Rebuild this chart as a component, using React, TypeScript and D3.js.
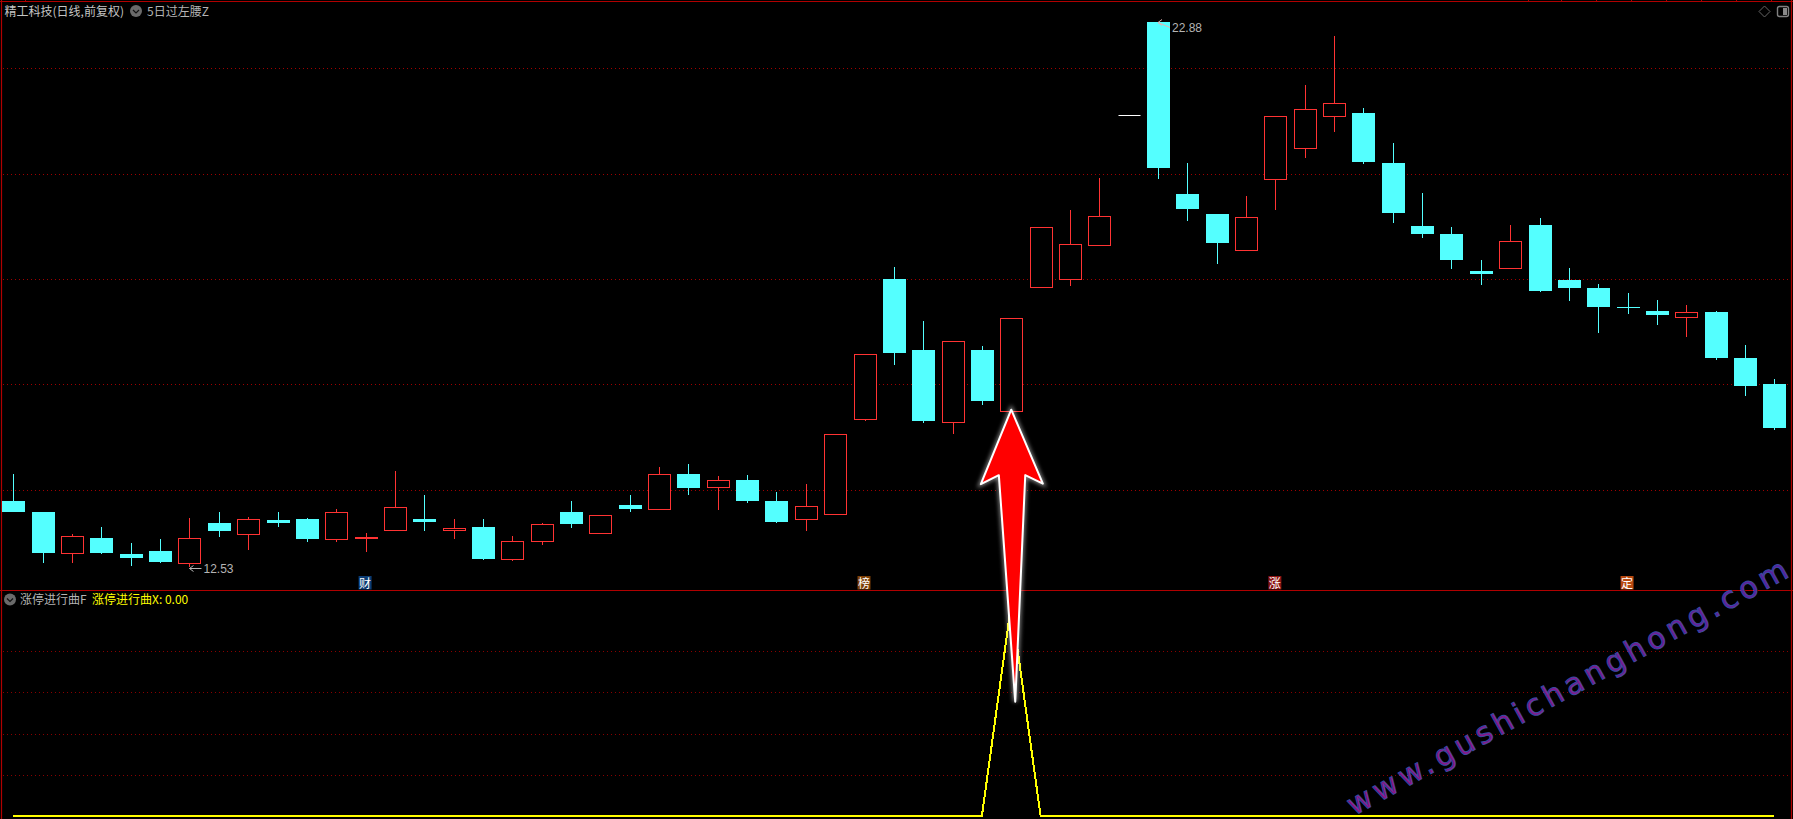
import { useRef, useEffect } from 'react';
import * as d3 from 'd3';

// Daily bars (前复权 prices)
const OPENS = [
  13.78, 13.57, 12.78, 13.08, 12.78, 12.83, 12.61, 13.37, 13.16, 13.42,
  13.44, 13.05, 13.08, 13.22, 13.44, 13.24, 13.29, 12.67, 13.01, 13.57,
  13.16, 13.71, 13.62, 14.30, 14.04, 14.18, 13.78, 13.43, 13.54, 15.33,
  18.00, 16.65, 15.29, 16.65, 15.48, 17.85, 17.99, 18.63, 21.11, 22.88,
  19.61, 19.23, 18.54, 19.89, 20.47, 21.10, 21.15, 20.20, 19.01, 18.85,
  18.15, 18.21, 19.03, 17.98, 17.83, 17.47, 17.39, 17.28, 17.37, 16.50,
  16.01,
];
const HIGHS = [
  14.30, 13.57, 13.16, 13.29, 12.99, 13.06, 13.46, 13.57, 13.48, 13.57,
  13.46, 13.63, 13.18, 14.35, 13.90, 13.44, 13.44, 13.12, 13.37, 13.78,
  13.51, 13.90, 14.43, 14.49, 14.26, 14.28, 13.95, 14.11, 15.05, 16.57,
  18.23, 17.20, 16.82, 16.73, 17.25, 18.98, 19.31, 19.92, 21.11, 22.88,
  20.20, 19.23, 19.58, 21.09, 21.68, 22.61, 21.25, 20.58, 19.63, 18.99,
  18.36, 19.03, 19.16, 18.21, 17.90, 17.73, 17.60, 17.51, 17.39, 16.75,
  16.10,
];
const LOWS = [
  13.57, 12.61, 12.61, 12.78, 12.55, 12.61, 12.53, 13.10, 12.85, 13.29,
  13.01, 13.01, 12.82, 13.22, 13.21, 13.06, 12.66, 12.64, 12.95, 13.27,
  13.16, 13.57, 13.62, 13.90, 13.61, 13.75, 13.37, 13.21, 13.54, 15.30,
  16.37, 15.27, 15.06, 15.61, 15.48, 17.85, 17.87, 18.63, 21.11, 19.90,
  19.10, 18.28, 18.54, 19.31, 20.30, 20.79, 20.18, 19.06, 18.78, 18.19,
  17.89, 18.21, 17.75, 17.58, 16.97, 17.34, 17.13, 16.90, 16.46, 15.78,
  15.13,
];
const CLOSES = [
  13.57, 12.80, 13.11, 12.80, 12.70, 12.63, 13.09, 13.21, 13.44, 13.37,
  13.06, 13.57, 13.10, 13.66, 13.39, 13.28, 12.68, 13.02, 13.34, 13.35,
  13.51, 13.63, 14.29, 14.03, 14.18, 13.78, 13.39, 13.68, 15.05, 16.57,
  16.59, 15.30, 16.82, 15.68, 17.25, 18.98, 18.66, 19.19, 21.11, 20.11,
  19.33, 18.68, 19.17, 21.09, 21.22, 21.34, 20.22, 19.25, 18.85, 18.36,
  18.09, 18.72, 17.77, 17.83, 17.47, 17.45, 17.32, 17.37, 16.50, 15.97,
  15.17,
];
// Lower pane, 涨停进行曲X
const SIGNAL = [
  0, 0, 0, 0, 0, 0, 0, 0, 0, 0,
  0, 0, 0, 0, 0, 0, 0, 0, 0, 0,
  0, 0, 0, 0, 0, 0, 0, 0, 0, 0,
  0, 0, 0, 0, 1.03, 0, 0, 0, 0, 0,
  0, 0, 0, 0, 0, 0, 0, 0, 0, 0,
  0, 0, 0, 0, 0, 0, 0, 0, 0, 0,
  0,
];
const PRICE_GRID = [14, 16, 18, 20, 22];
const SIGNAL_GRID = [0.2, 0.4, 0.6, 0.8];
const TOP_TICKS = [25, 1528, 1561, 1596, 1631, 1666, 1701, 1736, 1771];
const BADGES = [
  { index: 12, text: '财', color: '#0b3b73' },
  { index: 29, text: '榜', color: '#7d3f06' },
  { index: 43, text: '涨', color: '#8a1414' },
  { index: 55, text: '定', color: '#b8480f' },
];

const W = 1793, H = 819;
const CYAN = '#54ffff', RED = '#ff3333', FRAME = '#b00000', GRID = '#a00000';
const CJK = '"Noto Sans CJK SC", sans-serif';

export default function App() {
  const ref = useRef<SVGSVGElement>(null);

  useEffect(() => {
    const svg = ref.current;
    if (!svg) return;
    d3.select(svg).selectAll('*').remove();
    const g = d3.select(svg).attr('viewBox', `0 0 ${W} ${H}`).append('g');

    const x = d3.scaleLinear().domain([0, 60]).range([13.4, 1774.3]);
    const y = d3.scaleLinear().domain([12.53, 22.88]).range([567, 22]);
    const ySig = d3.scaleLinear().domain([0, 1]).range([816, 610]);
    const px = (v: number) => Math.round(v) + 0.5;

    // Defs: arrow glow and watermark gradient
    const defs = g.append('defs');
    const glow = defs.append('filter').attr('id', 'glow').attr('x', '-30%').attr('y', '-10%').attr('width', '160%').attr('height', '120%');
    glow.append('feGaussianBlur').attr('stdDeviation', 2);
    const grad = defs.append('linearGradient').attr('id', 'mark');
    grad.append('stop').attr('offset', '0%').attr('stop-color', '#980f82');
    grad.append('stop').attr('offset', '50%').attr('stop-color', '#86188c');
    grad.append('stop').attr('offset', '100%').attr('stop-color', '#5a1fa0');

    // Background
    g.append('rect').attr('width', W).attr('height', H).attr('fill', '#000');

    // Grid
    PRICE_GRID.forEach((v) => {
      g.append('line')
        .attr('x1', 3).attr('x2', 1789).attr('y1', px(y(v))).attr('y2', px(y(v)))
        .attr('stroke', GRID).attr('stroke-dasharray', '1,3');
    });
    SIGNAL_GRID.forEach((v) => {
      g.append('line')
        .attr('x1', 3).attr('x2', 1789).attr('y1', px(ySig(v))).attr('y2', px(ySig(v)))
        .attr('stroke', '#8a0000').attr('stroke-dasharray', '1,3');
    });

    // Frame
    const frame = [
      [1.5, 0, 1.5, H], [1791.5, 0, 1791.5, H], [0, 1.5, W, 1.5], [0, 590.5, W, 590.5],
    ];
    frame.forEach((f) => {
      g.append('line')
        .attr('x1', f[0]).attr('y1', f[1]).attr('x2', f[2]).attr('y2', f[3])
        .attr('stroke', FRAME).attr('stroke-width', 1.2);
    });
    TOP_TICKS.forEach((t) => {
      g.append('line').attr('x1', t + 0.5).attr('x2', t + 0.5).attr('y1', 0).attr('y2', 2).attr('stroke', FRAME);
    });

    // Watermark sits under the arrow but above the grid
    g.append('text')
      .attr('transform', 'translate(1354,816) rotate(-28.8)')
      .attr('font-family', '"DejaVu Sans", sans-serif').attr('font-size', 30)
      .attr('textLength', 498).attr('lengthAdjust', 'spacing')
      .attr('fill', 'url(#mark)').attr('stroke', '#3a4aa0').attr('stroke-width', 1)
      .text('www.gushichanghong.com');

    // Candles
    OPENS.forEach((open, i) => {
      const close = CLOSES[i];
      const cx = px(x(i));
      const flat = open === close;
      const up = close > open;
      const color = flat ? '#ffffff' : up ? RED : CYAN;
      const top = y(Math.max(open, close));
      const bot = y(Math.min(open, close));

      if (flat) {
        g.append('line')
          .attr('x1', cx - 11).attr('x2', cx + 11).attr('y1', px(top)).attr('y2', px(top))
          .attr('stroke', color);
        return;
      }
      g.append('line')
        .attr('x1', cx).attr('x2', cx).attr('y1', y(HIGHS[i])).attr('y2', top)
        .attr('stroke', color).attr('shape-rendering', 'crispEdges');
      g.append('line')
        .attr('x1', cx).attr('x2', cx).attr('y1', bot).attr('y2', y(LOWS[i]))
        .attr('stroke', color).attr('shape-rendering', 'crispEdges');
      if (up) {
        g.append('rect')
          .attr('x', cx - 11).attr('y', px(top)).attr('width', 22).attr('height', Math.max(1, Math.round(bot - top)))
          .attr('fill', '#000').attr('stroke', color).attr('stroke-width', 1.1).attr('shape-rendering', 'crispEdges');
      } else {
        g.append('rect')
          .attr('x', cx - 11.5).attr('y', Math.round(top)).attr('width', 23).attr('height', Math.max(1, Math.round(bot - top)))
          .attr('fill', color).attr('shape-rendering', 'crispEdges');
      }
    });

    // High / low markers
    const iMax = d3.maxIndex(HIGHS), iMin = d3.minIndex(LOWS);
    const marker = (i: number, v: number, dy: number, colour: string) => {
      const mx = x(i), my = y(v);
      g.append('path')
        .attr('d', `M${mx + 12},${my + dy} L${mx},${my + dy - (dy > 3 ? 5 : 0)} M${mx + 4},${my + dy - 3 - (dy > 3 ? 5 : 0)} L${mx},${my + dy - (dy > 3 ? 5 : 0)} L${mx + 4},${my + dy + 3 - (dy > 3 ? 5 : 0)}`)
        .attr('fill', 'none').attr('stroke', colour);
      g.append('text')
        .attr('x', mx + 14).attr('y', my + dy + 4.5)
        .attr('font-family', '"Liberation Sans", sans-serif').attr('font-size', 12)
        .attr('fill', '#b4b4b4').text(v.toFixed(2));
    };
    marker(iMax, HIGHS[iMax], 5.5, '#e8b0b0');
    marker(iMin, LOWS[iMin], 1.5, '#b4b4b4');

    // Badges on the divider
    BADGES.forEach((b) => {
      const bx = x(b.index) - 0.5;
      g.append('rect')
        .attr('x', bx - 6.5).attr('y', 576).attr('width', 13).attr('height', 13.5)
        .attr('fill', b.color);
      g.append('text')
        .attr('x', bx).attr('y', 587.5).attr('text-anchor', 'middle')
        .attr('font-family', CJK).attr('font-size', 12).attr('fill', '#fff')
        .text(b.text);
    });

    // Signal line
    const line = d3.line<number>().x((_, i) => x(i)).y((d) => ySig(d));
    g.append('path')
      .datum(SIGNAL).attr('d', line)
      .attr('fill', 'none').attr('stroke', '#ffff00').attr('stroke-width', 2).attr('shape-rendering', 'crispEdges');

    // Red arrow pointing at the bar of the signal
    const ax = x(34), ay = y(LOWS[34]);
    const arrow = [[0, -2], [31.6, 72], [14, 63.5], [4, 290], [-12.4, 63.5], [-30.4, 72.5]];
    const arrowPath = d3.line().curve(d3.curveLinearClosed)(arrow.map((p) => [ax + p[0], ay + p[1]] as [number, number]));
    g.append('path').attr('d', arrowPath).attr('fill', 'none').attr('stroke', '#fff').attr('stroke-width', 4).attr('opacity', 0.55).attr('filter', 'url(#glow)');
    g.append('path').attr('d', arrowPath).attr('fill', '#ff0000').attr('stroke', '#fff').attr('stroke-width', 2).attr('stroke-linejoin', 'round');

    // Pane captions
    const chevron = (cx: number, cy: number) => {
      g.append('circle').attr('cx', cx).attr('cy', cy).attr('r', 6).attr('fill', '#6a6a6a');
      g.append('path')
        .attr('d', `M${cx - 3},${cy - 1} L${cx},${cy + 2} L${cx + 3},${cy - 1}`)
        .attr('fill', 'none').attr('stroke', '#111').attr('stroke-width', 1.2);
    };
    const label = (lx: number, ly: number, text: string, fill: string) => {
      g.append('text').attr('x', lx).attr('y', ly)
        .attr('font-family', CJK).attr('font-size', 12).attr('fill', fill).text(text);
    };
    label(4.5, 15.5, '精工科技(日线,前复权)', '#c4c4c4');
    chevron(136, 11);
    label(147, 15.5, '5日过左腰Z', '#b4b4b4');
    chevron(10, 599.5);
    label(20, 604, '涨停进行曲F', '#b4b4b4');
    label(92, 604, '涨停进行曲X: 0.00', '#ffff00');

    // Top right window buttons
    g.append('path').attr('d', 'M1764.5,6 L1770,11.5 L1764.5,17 L1759,11.5 Z').attr('fill', 'none').attr('stroke', '#666');
    g.append('rect').attr('x', 1777.5).attr('y', 6.5).attr('width', 11).attr('height', 10).attr('rx', 2).attr('fill', 'none').attr('stroke', '#808080').attr('stroke-width', 1.4);
    g.append('rect').attr('x', 1783).attr('y', 8).attr('width', 4).attr('height', 7).attr('fill', '#888');
  }, []);

  return <svg ref={ref} width={W} height={H} style={{ position: 'fixed', left: 0, top: 0, display: 'block' }} />;
}
